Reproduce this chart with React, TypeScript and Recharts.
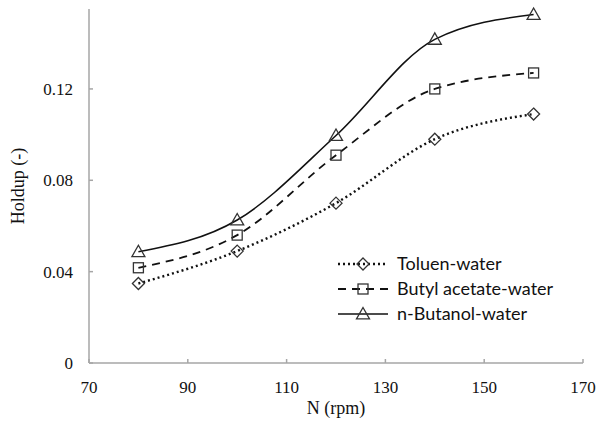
import React from "react";
import { LineChart, Line, XAxis, YAxis, Legend } from "recharts";

const speeds = [80, 100, 120, 140, 160];
const toluenWater = [0.0348, 0.049, 0.07, 0.098, 0.109];
const butylAcetateWater = [0.0417, 0.056, 0.091, 0.12, 0.127];
const nButanolWater = [0.0487, 0.0626, 0.0996, 0.1417, 0.1526];
const xTicks = [70, 90, 110, 130, 150, 170];
const yTicks = [0, 0.04, 0.08, 0.12];
const seriesNames = ["Toluen-water", "Butyl acetate-water", "n-Butanol-water"];

const data = speeds.map((n, i) => ({
  n,
  toluen: toluenWater[i],
  butyl: butylAcetateWater[i],
  butanol: nButanolWater[i],
}));

const AXIS = "#a6a6a6";
const INK = "#111";
const MARK = "#333";
const SERIF = "'Liberation Serif', 'Times New Roman', serif";
const SANS = "Lato, 'Liberation Sans', sans-serif";

type Shape = "diamond" | "square" | "triangle";

function marker(shape: Shape, cx: number, cy: number, key?: string | number) {
  const common = { fill: "none", stroke: MARK, strokeWidth: 1.3 };
  if (shape === "diamond") {
    const r = 6;
    return (
      <polygon key={key} points={`${cx},${cy - r} ${cx + r},${cy} ${cx},${cy + r} ${cx - r},${cy}`} {...common} />
    );
  }
  if (shape === "square") {
    const r = 5;
    return <rect key={key} x={cx - r} y={cy - r} width={2 * r} height={2 * r} {...common} />;
  }
  const r = 6.5;
  return (
    <polygon key={key} points={`${cx},${cy - r} ${cx + r},${cy + r * 0.75} ${cx - r},${cy + r * 0.75}`} {...common} />
  );
}

const makeDot = (shape: Shape) => (props: any) => {
  const { cx, cy, index } = props;
  if (cx == null || cy == null) return <g key={index} />;
  return marker(shape, cx, cy, index);
};

const legendRows: { name: string; dash: string; width: number; shape: Shape }[] = [
  { name: seriesNames[0], dash: "2 3", width: 2.4, shape: "diamond" },
  { name: seriesNames[1], dash: "8 6", width: 1.8, shape: "square" },
  { name: seriesNames[2], dash: "", width: 1.6, shape: "triangle" },
];

const renderLegend = () => (
  <svg width={250} height={80}>
    {legendRows.map((r, i) => {
      const y = 12 + i * 25;
      return (
        <g key={r.name}>
          <line x1={0} x2={50} y1={y} y2={y} stroke={INK} strokeWidth={r.width} strokeDasharray={r.dash || undefined} />
          {marker(r.shape, 25, y)}
          <text x={59} y={y} dy="0.36em" style={{ fontFamily: SANS }} fontSize={18} fill="#111">
            {r.name}
          </text>
        </g>
      );
    })}
  </svg>
);

const XTick = (props: any) => {
  const { x, y, payload } = props;
  return (
    <text x={x} y={y} dy="0.71em" textAnchor="middle" fill="#111" fontSize={17} style={{ fontFamily: SERIF }}>
      {payload.value}
    </text>
  );
};

const YTick = (props: any) => {
  const { x, y, payload } = props;
  return (
    <text x={x} y={y} dy="0.355em" textAnchor="end" fill="#111" fontSize={17} style={{ fontFamily: SERIF }}>
      {String(payload.value)}
    </text>
  );
};

export default function App() {
  return (
    <div style={{ width: 598, height: 424 }}>
      <style>{`html, body { margin: 0; padding: 0; overflow: hidden; }`}</style>
      <LineChart width={598} height={424} data={data} margin={{ top: 9, right: 15, bottom: 0, left: 8 }}>
        <XAxis
          dataKey="n"
          type="number"
          domain={[70, 170]}
          ticks={xTicks}
          height={61}
          stroke={AXIS}
          strokeWidth={1.5}
          tickSize={-4}
          tickMargin={22}
          tick={<XTick />}
          label={{ value: "N (rpm)", position: "insideBottom", offset: 10, fill: "#111", fontSize: 18, style: { fontFamily: SERIF } }}
        />
        <XAxis xAxisId="top" dataKey="n" type="number" domain={[70, 170]} orientation="top" height={0} tick={false} tickLine={false} stroke={AXIS} strokeWidth={1.5} />
        <YAxis
          type="number"
          domain={[0, 0.155]}
          ticks={yTicks}
          width={81}
          stroke={AXIS}
          strokeWidth={1.5}
          tickSize={-4}
          tickMargin={20}
          tick={<YTick />}
          label={{ value: "Holdup (-)", angle: -90, position: "insideLeft", offset: 10, fill: "#111", fontSize: 18, style: { textAnchor: "middle", fontFamily: SERIF } }}
        />
        <YAxis yAxisId="right" orientation="right" domain={[0, 0.155]} width={0} tick={false} tickLine={false} stroke={AXIS} strokeWidth={1.5} />
        <Legend
          layout="vertical"
          align="center"
          verticalAlign="middle"
          content={renderLegend}
          wrapperStyle={{ position: "absolute", left: 338, top: 252, width: 250, height: 80 }}
        />
        <Line dataKey="toluen" name={seriesNames[0]} type="monotone" stroke={INK} strokeWidth={2.4} strokeDasharray="2 3" dot={makeDot("diamond")} activeDot={false} isAnimationActive={false} />
        <Line dataKey="butyl" name={seriesNames[1]} type="monotone" stroke={INK} strokeWidth={1.8} strokeDasharray="8 6" dot={makeDot("square")} activeDot={false} isAnimationActive={false} />
        <Line dataKey="butanol" name={seriesNames[2]} type="monotone" stroke={INK} strokeWidth={1.6} dot={makeDot("triangle")} activeDot={false} isAnimationActive={false} />
      </LineChart>
    </div>
  );
}
